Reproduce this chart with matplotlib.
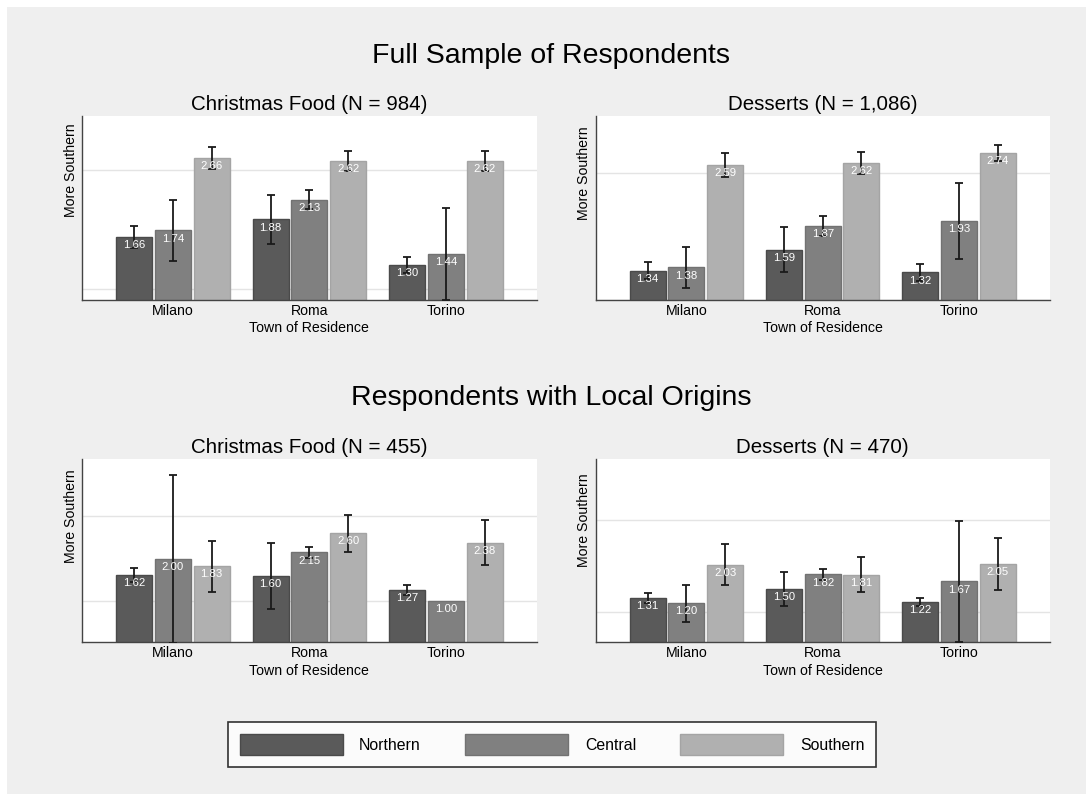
import numpy as np
import matplotlib
matplotlib.use("Agg")
import matplotlib.pyplot as plt
from matplotlib.patches import Rectangle

plt.rcParams['font.family'] = ['Liberation Sans', 'DejaVu Sans']

# ---------------- data ----------------
towns = ["Milano", "Roma", "Torino"]
origins = ["Northern", "Central", "Southern"]

# Full sample - Christmas food
full_food_northern = [1.66, 1.88, 1.30]
full_food_central = [1.74, 2.13, 1.44]
full_food_southern = [2.66, 2.62, 2.62]
full_food_err_northern = [0.14, 0.31, 0.10]
full_food_err_central = [0.38, 0.12, 0.58]
full_food_err_southern = [0.14, 0.13, 0.13]

# Full sample - Desserts
full_dess_northern = [1.34, 1.59, 1.32]
full_dess_central = [1.38, 1.87, 1.93]
full_dess_southern = [2.59, 2.62, 2.74]
full_dess_err_northern = [0.10, 0.27, 0.10]
full_dess_err_central = [0.24, 0.115, 0.45]
full_dess_err_southern = [0.14, 0.13, 0.095]

# Local origins - Christmas food
local_food_northern = [1.62, 1.60, 1.27]
local_food_central = [2.00, 2.15, 1.00]
local_food_southern = [1.83, 2.60, 2.38]
local_food_err_northern = [0.16, 0.78, 0.12]
local_food_err_central = [1.98, 0.125, 0.0]
local_food_err_southern = [0.60, 0.43, 0.53]

# Local origins - Desserts
local_dess_northern = [1.31, 1.50, 1.22]
local_dess_central = [1.20, 1.82, 1.67]
local_dess_southern = [2.03, 1.81, 2.05]
local_dess_err_northern = [0.11, 0.37, 0.09]
local_dess_err_central = [0.40, 0.115, 1.31]
local_dess_err_southern = [0.45, 0.38, 0.56]

panel_titles = ["Christmas Food (N = 984)", "Desserts (N = 1,086)",
                "Christmas Food (N = 455)", "Desserts (N = 470)"]
row_titles = ["Full Sample of Respondents", "Respondents with Local Origins"]
xlabel = "Town of Residence"
ytick_label = "More Southern"

panels = [
    ([full_food_northern, full_food_central, full_food_southern],
     [full_food_err_northern, full_food_err_central, full_food_err_southern]),
    ([full_dess_northern, full_dess_central, full_dess_southern],
     [full_dess_err_northern, full_dess_err_central, full_dess_err_southern]),
    ([local_food_northern, local_food_central, local_food_southern],
     [local_food_err_northern, local_food_err_central, local_food_err_southern]),
    ([local_dess_northern, local_dess_central, local_dess_southern],
     [local_dess_err_northern, local_dess_err_central, local_dess_err_southern]),
]

# ---------------- style / layout ----------------
W, H = 1086, 794
face_colors = ["#5a5a5a", "#808080", "#b0b0b0"]
edge_colors = ["#4a4a4a", "#727272", "#a4a4a4"]
ylims = [(0.867, 3.193), (1.0, 3.18), (0.035, 4.36), (0.35, 4.33)]
yticks = [[1.0, 2.5], [1.0, 2.5], [1.0, 3.0], [1.0, 3.0]]
# axes boxes in pixels: left, top, right, bottom
boxes = [(82, 115.5, 536.7, 299.5), (595.5, 115.5, 1050, 299.5),
         (82, 458.5, 536.7, 642.3), (595.5, 458.5, 1050, 642.3)]

fig = plt.figure(figsize=(W / 100, H / 100), dpi=100)
fig.patch.set_facecolor("white")
fig.patches.append(Rectangle((7 / W, -0.1), 1.2, 1.1 - 7 / H, transform=fig.transFigure,
                             facecolor="#efefef", edgecolor="none", zorder=-10))

offset = 0.284
width = 0.264
x = np.arange(len(towns))
bar_handles = []

for i, (means, errs) in enumerate(panels):
    l, t, r, b = boxes[i]
    ax = fig.add_axes([l / W, 1 - b / H, (r - l) / W, (b - t) / H])
    ax.set_facecolor("white")
    ax.set_xlim(-0.666, 2.666)
    ax.set_ylim(*ylims[i])
    hs = []
    for k in range(3):
        xs = x + (k - 1) * offset
        bars = ax.bar(xs, means[k], width=width, color=face_colors[k],
                      edgecolor=edge_colors[k], linewidth=1.0, zorder=2)
        hs.append(bars)
        e = np.array(errs[k])
        m = np.array(means[k])
        mask = e > 0
        ax.errorbar(xs[mask], m[mask], yerr=e[mask], fmt="none", ecolor="#1a1a1a",
                    elinewidth=1.3, capsize=2.6, capthick=1.3, zorder=3)
        for xx, mm in zip(xs, m):
            ax.annotate(f"{mm:.2f}", (xx, mm), xytext=(0, -5.9), textcoords="offset points",
                        ha="center", va="center", color="white", fontsize=8.2, zorder=4)
    if i == 0:
        bar_handles = hs
    ax.set_yticks(yticks[i])
    ax.set_yticklabels(["", ytick_label], rotation=90, va="center", fontsize=10.2)
    ax.yaxis.grid(True, color="#e4e4e4", linewidth=1.0, zorder=0)
    ax.set_axisbelow(True)
    ax.set_xticks(x)
    ax.set_xticklabels(towns, fontsize=10.2)
    ax.tick_params(axis="both", length=0)
    ax.tick_params(axis="x", pad=3)
    ax.tick_params(axis="y", pad=3)
    ax.set_xlabel(xlabel, fontsize=10.2, labelpad=2.7)
    ax.set_title(panel_titles[i], fontsize=14.8, pad=4)
    for s in ["top", "right"]:
        ax.spines[s].set_visible(False)
    for s in ["left", "bottom"]:
        ax.spines[s].set_color("#444444")
        ax.spines[s].set_linewidth(1.0)

fig.text(551 / W, 1 - 63.3 / H, row_titles[0], ha="center", va="baseline", fontsize=20.5)
fig.text(551 / W, 1 - 405 / H, row_titles[1], ha="center", va="baseline", fontsize=20.5)

leg = fig.legend(bar_handles, origins, loc="center", bbox_to_anchor=(552 / W, 1 - 744.7 / H),
                 ncol=3, frameon=True, fancybox=False, fontsize=11.4,
                 handlelength=6.5, handleheight=1.7, handletextpad=1.05,
                 columnspacing=2.8, borderpad=0.73, borderaxespad=0)
leg.get_frame().set_edgecolor("black")
leg.get_frame().set_linewidth(1.2)
leg.get_frame().set_facecolor("white")

fig.savefig("out.png", dpi=100, facecolor=fig.get_facecolor())
